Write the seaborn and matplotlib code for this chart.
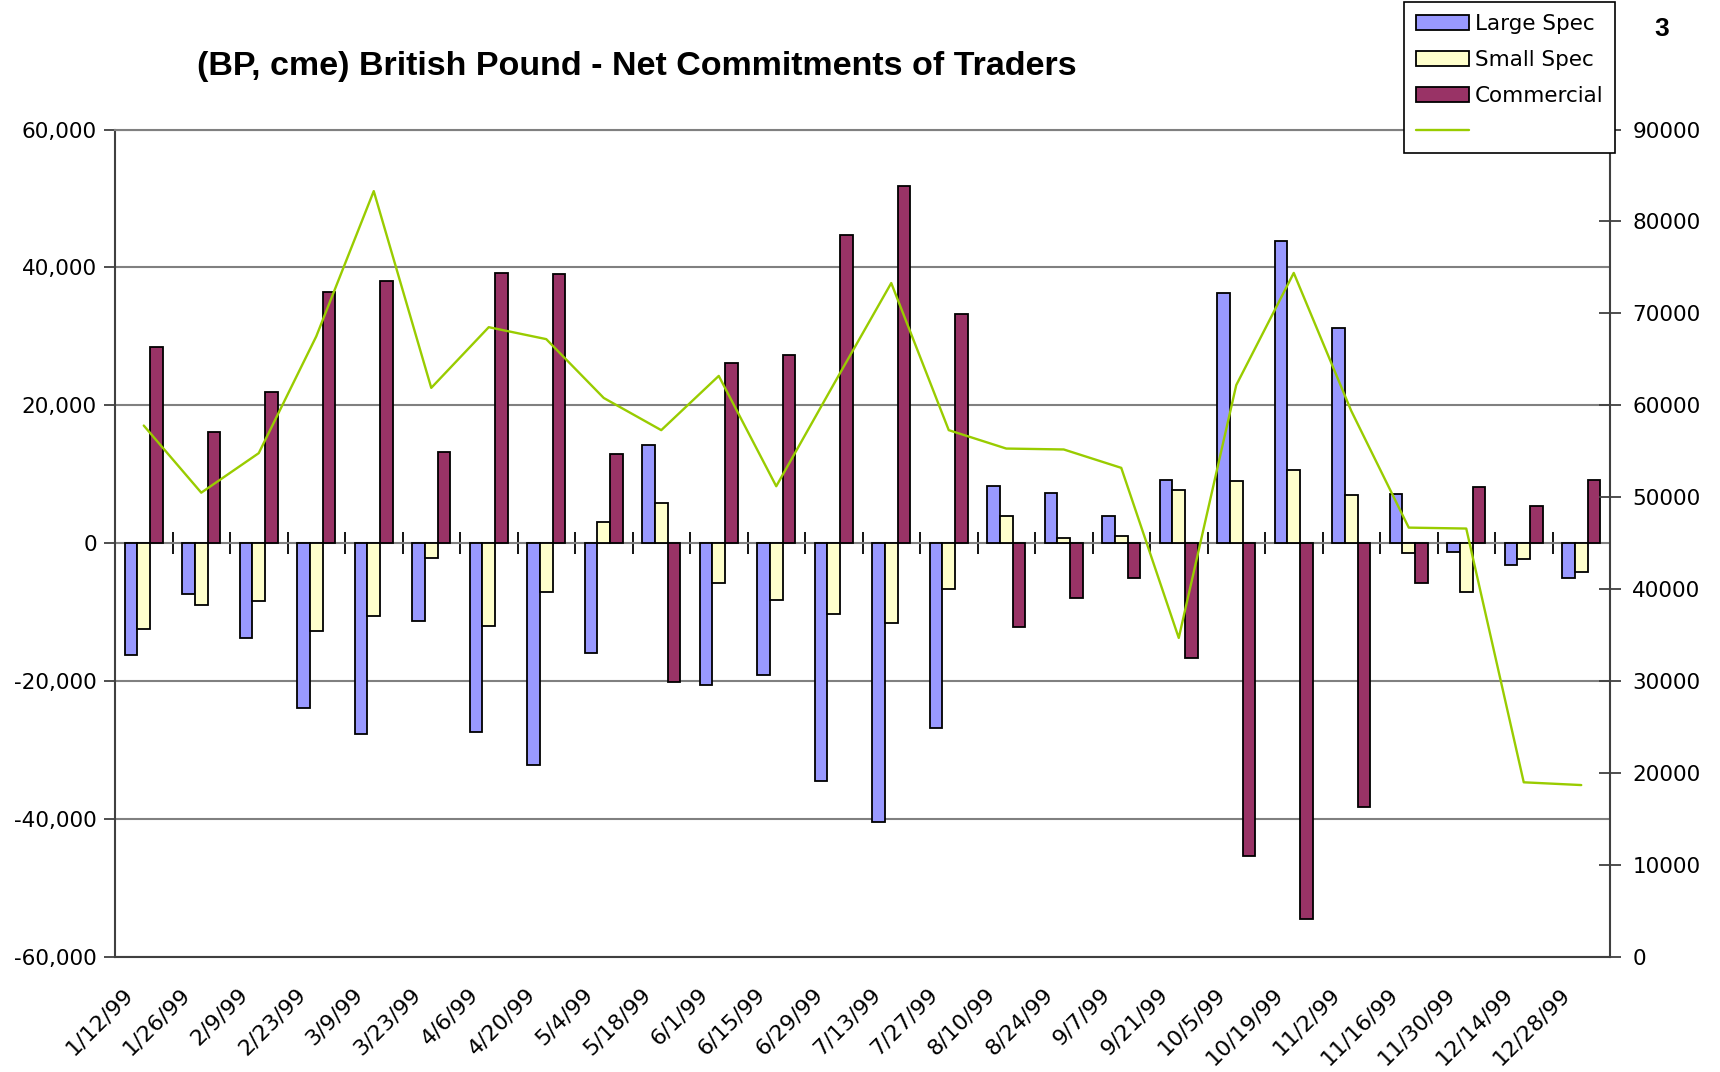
import numpy as np
import pandas as pd
import matplotlib
matplotlib.use("Agg")
import matplotlib.pyplot as plt
import matplotlib.transforms as mtransforms
import seaborn as sns
from matplotlib.patches import Patch
from matplotlib.lines import Line2D
from matplotlib.ticker import FuncFormatter

# ---------------- data ----------------
dates = ["1/12/99", "1/26/99", "2/9/99", "2/23/99", "3/9/99", "3/23/99", "4/6/99",
         "4/20/99", "5/4/99", "5/18/99", "6/1/99", "6/15/99", "6/29/99", "7/13/99",
         "7/27/99", "8/10/99", "8/24/99", "9/7/99", "9/21/99", "10/5/99", "10/19/99",
         "11/2/99", "11/16/99", "11/30/99", "12/14/99", "12/28/99"]
large_spec = [-16200, -7300, -13700, -23900, -27700, -11300, -27400, -32200, -15900, 14200,
              -20600, -19100, -34500, -40400, -26800, 8300, 7300, 4000, 9100, 36300,
              43800, 31200, 7200, -1200, -3100, -5000]
small_spec = [-12400, -8900, -8400, -12700, -10500, -2200, -12000, -7000, 3100, 5900,
              -5800, -8300, -10300, -11600, -6600, 4000, 700, 1000, 7700, 9000,
              10600, 7000, -1400, -7100, -2300, -4200]
commercial = [28500, 16100, 22000, 36500, 38000, 13300, 39200, 39000, 12900, -20100,
              26200, 27300, 44700, 51800, 33300, -12200, -7900, -5000, -16700, -45400,
              -54500, -38300, -5800, 8100, 5400, 9200]
line_values = [57800, 50500, 54800, 67500, 83300, 61900, 68500, 67200, 60800, 57300,
               63200, 51200, 62300, 73300, 57300, 55300, 55200, 53200, 34700, 62200,
               74400, 59400, 46700, 46600, 19000, 18700]
series_names = ["Large Spec", "Small Spec", "Commercial"]
title = "(BP, cme) British Pound - Net Commitments of Traders"
left_ticks = [-60000, -40000, -20000, 0, 20000, 40000, 60000]
right_ticks = [0, 10000, 20000, 30000, 40000, 50000, 60000, 70000, 80000, 90000]

# ---------------- style ----------------
colors = ["#9999FF", "#FFFFCC", "#993366"]
line_color = "#99CC00"
grid_color = "#808080"
axis_color = "#404040"

sns.set_theme(style="white")
plt.rcParams["font.family"] = ["DejaVu Sans"]
plt.rcParams["text.color"] = "black"
plt.rcParams["xtick.color"] = "black"
plt.rcParams["ytick.color"] = "black"
FS = 15.5
XFS = 16

df = pd.DataFrame({
    "date": dates * 3,
    "series": sum([[s] * len(dates) for s in series_names], []),
    "value": large_spec + small_spec + commercial,
})

fig = plt.figure(figsize=(17.2, 10.72), dpi=100)
ax = fig.add_axes([115 / 1720, 1 - 957 / 1072, (1610 - 115) / 1720, (957 - 129.5) / 1072])

sns.barplot(data=df, x="date", y="value", hue="series", hue_order=series_names,
            palette=colors, saturation=1, edgecolor="black", linewidth=1.3,
            width=2 / 3, gap=0, ax=ax, legend=False, errorbar=None)

ax.set_xlim(-0.5, len(dates) - 0.5)
ax.set_ylim(-60000, 60000)
ax.set_yticks(left_ticks)
ax.yaxis.set_major_formatter(FuncFormatter(lambda v, p: f"{int(v):,}"))
ax.set_axisbelow(True)
ax.yaxis.grid(True, color=grid_color, linewidth=1.5)
ax.xaxis.grid(False)
ax.set_xlabel("")
ax.set_ylabel("")
ax.tick_params(axis="y", direction="out", length=8, width=1.3, color=axis_color,
               labelsize=FS, pad=5)
ax.tick_params(axis="x", length=0, labelsize=XFS, pad=24)
offset = mtransforms.ScaledTranslation(-0.14, -0.01, fig.dpi_scale_trans)
for lab in ax.get_xticklabels():
    lab.set_rotation(45)
    lab.set_ha("right")
    lab.set_va("center")
    lab.set_rotation_mode("anchor")
    lab.set_transform(lab.get_transform() + offset)
for side in ["left", "bottom"]:
    ax.spines[side].set_color(axis_color)
    ax.spines[side].set_linewidth(1.5)
ax.spines["top"].set_color(grid_color)
ax.spines["top"].set_linewidth(1.5)
ax.spines["right"].set_visible(False)

# category axis at zero with boundary ticks
sec = ax.secondary_xaxis(0.5)
sec.set_xticks(np.arange(0.5, len(dates) - 1, 1.0))
sec.set_xticklabels([])
sec.tick_params(direction="inout", length=16, width=1.3, color="black")
sec.spines["bottom"].set_color("black")
sec.spines["bottom"].set_linewidth(1.3)

# right axis line
ax2 = ax.twinx()
sns.lineplot(x=np.arange(len(dates)), y=line_values, ax=ax2, color=line_color,
             linewidth=1.7, legend=False)
ax2.set_ylim(0, 90000)
ax2.set_yticks(right_ticks)
ax2.yaxis.set_major_formatter(FuncFormatter(lambda v, p: f"{int(v)}"))
ax2.tick_params(axis="y", direction="inout", length=16, width=1.3, color=axis_color,
                labelsize=FS, pad=8)
ax2.grid(False)
for side in ["left", "top", "bottom"]:
    ax2.spines[side].set_visible(False)
ax2.spines["right"].set_color(axis_color)
ax2.spines["right"].set_linewidth(1.5)

# title and page number
fig.text(637 / 1720, 1 - 66 / 1072, title, ha="center", va="center",
         fontsize=24.5, fontweight="bold", family=["Liberation Sans", "DejaVu Sans"])
fig.text(1662 / 1720, 1 - 29 / 1072, "3", ha="center", va="center",
         fontsize=19, fontweight="bold", family=["Liberation Sans", "DejaVu Sans"])

# legend
handles = [Patch(facecolor=c, edgecolor="black", linewidth=1.3) for c in colors]
handles.append(Line2D([0], [0], color=line_color, linewidth=1.7))
labels = series_names + [""]
leg = fig.legend(handles, labels, loc="upper left",
                 bbox_to_anchor=(1404 / 1720, 1 - 2 / 1072), frameon=True,
                 fancybox=False, edgecolor="black", framealpha=1, fontsize=FS,
                 handlelength=2.45, handleheight=0.7, labelspacing=0.74,
                 handletextpad=0.28, borderpad=0.55, borderaxespad=0)
leg.get_frame().set_linewidth(1.2)

fig.savefig("out.png", dpi=100, facecolor="white")
